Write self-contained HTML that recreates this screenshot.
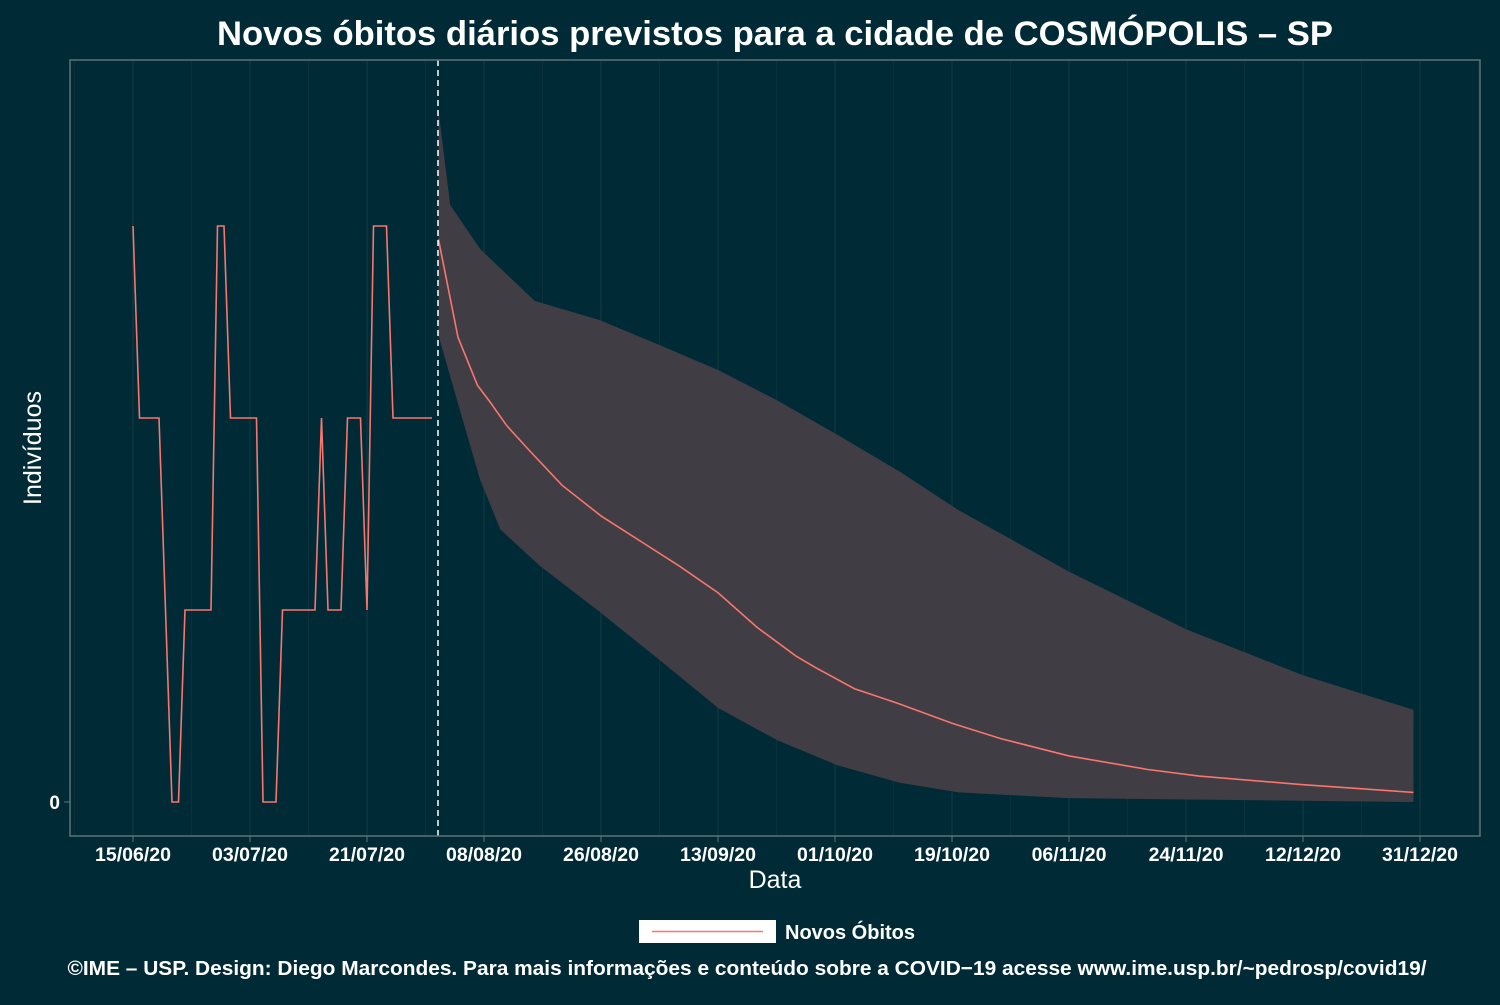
<!DOCTYPE html>
<html><head><meta charset="utf-8"><style>
body{margin:0;background:#002b36;}
svg text{font-family:"Liberation Sans",sans-serif;}
</style></head><body>
<svg width="1500" height="1000" viewBox="0 0 1500 1000" xmlns="http://www.w3.org/2000/svg">
<rect width="1500" height="1000" fill="#002b36"/>
<text x="775" y="45" text-anchor="middle" font-size="34" font-weight="bold" fill="#fff" textLength="1116" lengthAdjust="spacingAndGlyphs">Novos óbitos diários previstos para a cidade de COSMÓPOLIS – SP</text>
<g id="grid"></g>
<path id="band" fill="#403d44"/>
<path id="obsLine" fill="none" stroke="#f8766d" stroke-width="1.6"/>
<path id="fcLine" fill="none" stroke="#f8766d" stroke-width="1.6"/>
<line id="cut" y1="60" y2="836" stroke="#fff" stroke-width="1.5" stroke-dasharray="6,4"/>
<rect x="70" y="60" width="1410" height="776" fill="none" stroke="#5f7378" stroke-width="1.5"/>
<g id="xticks"></g>
<line x1="64" y1="802" x2="70" y2="802" stroke="#5f7378"/>
<text x="60" y="809" text-anchor="end" font-size="19" font-weight="bold" fill="#fff">0</text>
<text x="775" y="888" text-anchor="middle" font-size="25" fill="#fff">Data</text>
<text transform="translate(41,448) rotate(-90)" text-anchor="middle" font-size="25" fill="#fff">Indivíduos</text>
<g>
<rect x="639" y="920" width="137" height="23" fill="#fff"/>
<line x1="652" y1="931.5" x2="763" y2="931.5" stroke="#f8766d" stroke-width="1.6"/>
<text x="785" y="939" font-size="20" font-weight="bold" fill="#fff">Novos Óbitos</text>
</g>
<text x="747" y="975" text-anchor="middle" font-size="20.5" font-weight="bold" fill="#fff" textLength="1359" lengthAdjust="spacingAndGlyphs">©IME – USP. Design: Diego Marcondes. Para mais informações e conteúdo sobre a COVID−19 acesse www.ime.usp.br/~pedrosp/covid19/</text>
</svg>
<script>
const tickLabels=["15/06/20","03/07/20","21/07/20","08/08/20","26/08/20","13/09/20","01/10/20","19/10/20","06/11/20","24/11/20","12/12/20","31/12/20"];
const tickDays=[0,18,36,54,72,90,108,126,144,162,180,198];
const obsValues=[3,2,2,2,2,1,0,0,1,1,1,1,1,3,3,2,2,2,2,2,0,0,0,1,1,1,1,1,1,2,1,1,1,2,2,2,1,3,3,3,2,2,2,2,2,2,2];
const forecastStartDay=47;
const fcDays=[47,50,53,55,57.5,61,66,72,78,84,90,96,102,105,111,118,126,133.5,144,156,164,180,197];
const fcMean=[2.93,2.42,2.17,2.08,1.96,1.83,1.65,1.49,1.36,1.23,1.09,0.91,0.76,0.70,0.59,0.51,0.41,0.33,0.24,0.17,0.135,0.09,0.05];
const upDays=[47,48.8,53.4,61.8,71.8,81,90,99.2,108.5,118,127,144,162,180,197];
const upVals=[3.6,3.11,2.88,2.61,2.51,2.38,2.25,2.09,1.91,1.72,1.52,1.20,0.90,0.66,0.48];
const loDays=[47,50.3,53.4,56.5,62.6,71.8,81,90,99.2,108.5,118,127,144,197];
const loVals=[2.43,2.04,1.68,1.42,1.23,0.99,0.74,0.49,0.32,0.19,0.10,0.05,0.02,0];
const x=d=>133+d*6.5, y=v=>802-v*192;
const NS="http://www.w3.org/2000/svg";
const grid=document.getElementById('grid'), xt=document.getElementById('xticks');
for(let d=-9;d<=207;d+=9){const X=x(d);if(X<70||X>1480)continue;
 const l=document.createElementNS(NS,'line');l.setAttribute('x1',X);l.setAttribute('x2',X);l.setAttribute('y1',60);l.setAttribute('y2',836);
 l.setAttribute('stroke',d%18===0?'#14373f':'#0b323c');l.setAttribute('stroke-width',d%18===0?1.2:1);
 
 
 grid.appendChild(l);}
tickDays.forEach((d,i)=>{const X=x(d);
 const t=document.createElementNS(NS,'line');t.setAttribute('x1',X);t.setAttribute('x2',X);t.setAttribute('y1',836);t.setAttribute('y2',842);t.setAttribute('stroke','#5f7378');
 
 
 xt.appendChild(t);
 const tx=document.createElementNS(NS,'text');tx.setAttribute('x',X);tx.setAttribute('y',861);tx.setAttribute('text-anchor','middle');tx.setAttribute('font-size','19.5');tx.setAttribute('font-weight','bold');tx.setAttribute('fill','#fff');tx.textContent=tickLabels[i];
 
 
 xt.appendChild(tx);});
document.getElementById('obsLine').setAttribute('d',obsValues.map((v,i)=>(i?'L':'M')+x(i)+','+y(v)).join(''));
document.getElementById('fcLine').setAttribute('d',fcDays.map((d,i)=>(i?'L':'M')+x(d)+','+y(fcMean[i])).join(''));
let bd=upDays.map((d,i)=>(i?'L':'M')+x(d)+','+y(upVals[i])).join('');
for(let i=loDays.length-1;i>=0;i--)bd+='L'+x(loDays[i])+','+y(loVals[i]);
document.getElementById('band').setAttribute('d',bd+'Z');
const c=document.getElementById('cut');c.setAttribute('x1',x(forecastStartDay)-0.5);c.setAttribute('x2',x(forecastStartDay)-0.5);
</script>
</body></html>
